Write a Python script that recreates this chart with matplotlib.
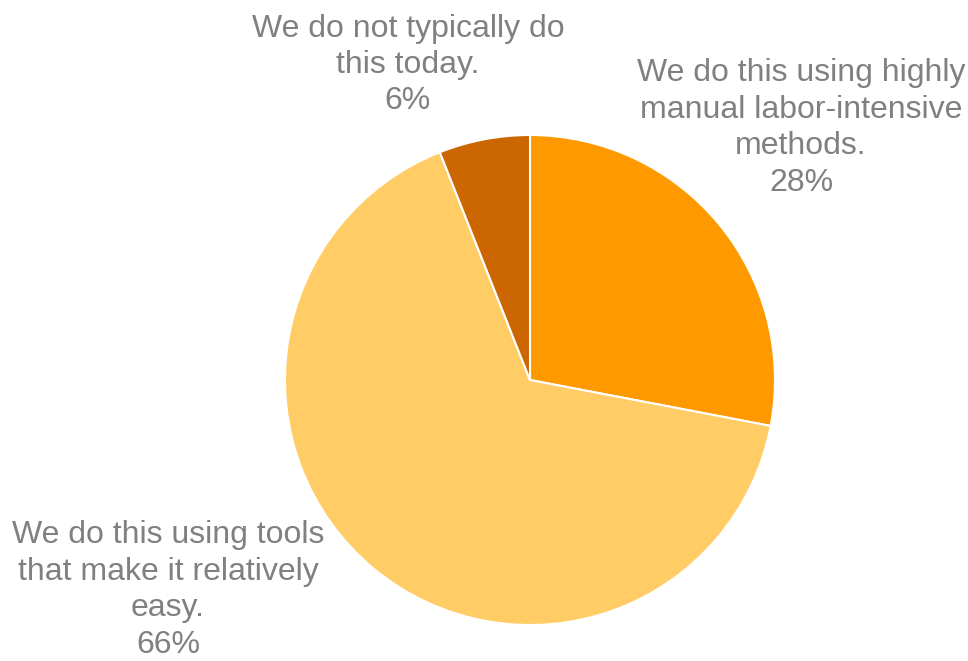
import matplotlib
matplotlib.use("Agg")
import matplotlib.pyplot as plt

categories = [
    "We do this using highly\nmanual labor-intensive\nmethods.",
    "We do this using tools\nthat make it relatively\neasy.",
    "We do not typically do\nthis today.",
]
values = [28, 66, 6]
colors = ["#FF9900", "#FFCC66", "#CC6600"]

plt.rcParams['font.family'] = ['Liberation Sans', 'DejaVu Sans']

fig = plt.figure(figsize=(9.68, 6.61), dpi=100)
W, H = 968, 661
cx, cy, r = 530, 380, 245
ax = fig.add_axes([(cx - r) / W, (H - cy - r) / H, 2 * r / W, 2 * r / H])
ax.pie(values, colors=colors, startangle=90, counterclock=False,
       wedgeprops=dict(edgecolor="white", linewidth=1.5), radius=1.0)
ax.set_xlim(-1, 1)
ax.set_ylim(-1, 1)
ax.set_aspect('auto')
ax.axis('off')

# label positions in pixel coordinates (center of text block)
label_pos = [(801, 128), (168, 590), (408, 65)]
for cat, v, (px, py) in zip(categories, values, label_pos):
    fig.text(px / W, 1 - py / H, f"{cat}\n{v}%", ha="center", va="center",
             fontsize=23, color="#808080", linespacing=1.28)

fig.savefig("out.png", dpi=100)
